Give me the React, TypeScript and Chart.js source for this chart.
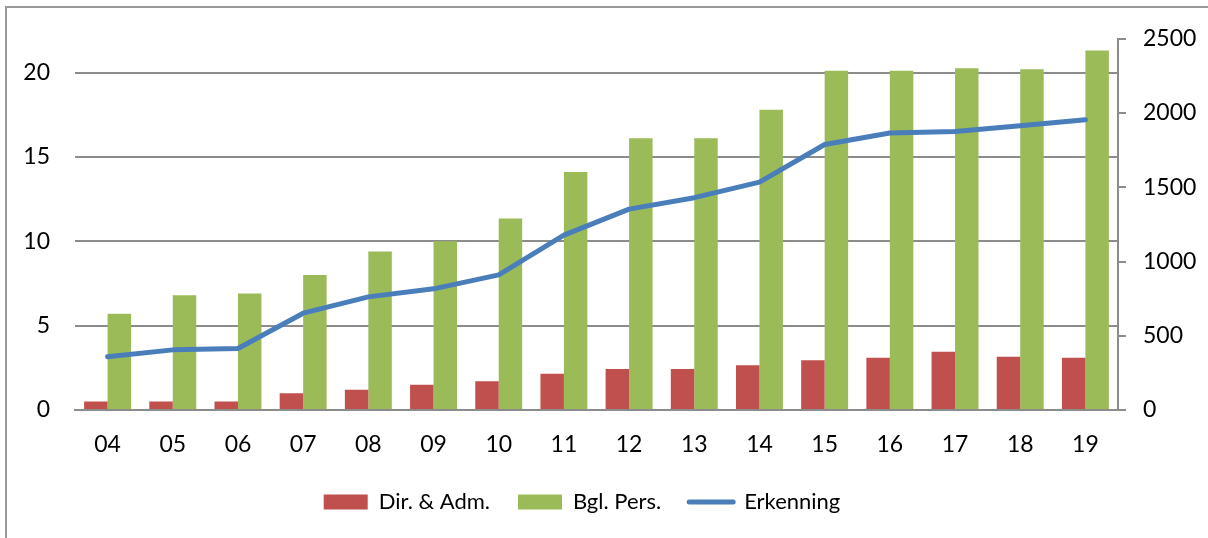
import React, { useEffect, useRef } from 'react';
import { Chart, registerables } from 'chart.js';

Chart.register(...registerables);

const categories = ['04', '05', '06', '07', '08', '09', '10', '11', '12', '13', '14', '15', '16', '17', '18', '19'];
const dirAdm = [0.5, 0.5, 0.5, 1.0, 1.2, 1.5, 1.7, 2.15, 2.43, 2.43, 2.65, 2.95, 3.1, 3.45, 3.15, 3.1];
const bglPers = [5.7, 6.8, 6.9, 8.0, 9.4, 10.0, 11.35, 14.1, 16.1, 16.1, 17.8, 20.1, 20.1, 20.25, 20.2, 21.3];
const erkenning = [358, 405, 414, 652, 762, 816, 910, 1178, 1353, 1430, 1535, 1788, 1866, 1875, 1914, 1955];
const leftTicks = [0, 5, 10, 15, 20];
const rightTicks = [0, 500, 1000, 1500, 2000, 2500];

const RED = '#C0504D';
const GREEN = '#9BBB59';
const BLUE = '#4A7EBB';
const GRID = '#8C8C8C';
const FONT = 'Lato';

const legendShift = {
  id: 'legendShift',
  afterLayout(chart: any) {
    const l = chart.legend;
    if (l) {
      l.left -= 22;
      l.right -= 22;
    }
  },
};

export default function App() {
  const ref = useRef<HTMLCanvasElement | null>(null);

  useEffect(() => {
    if (!ref.current) return;
    const chart = new Chart(ref.current, {
      type: 'bar',
      plugins: [legendShift],
      data: {
        labels: categories,
        datasets: [
          {
            type: 'bar',
            label: 'Dir. & Adm.',
            data: dirAdm,
            backgroundColor: RED,
            borderWidth: 0,
            yAxisID: 'y',
            order: 2,
            barPercentage: 1,
            categoryPercentage: 0.72,
          },
          {
            type: 'bar',
            label: 'Bgl. Pers.',
            data: bglPers,
            backgroundColor: GREEN,
            borderWidth: 0,
            yAxisID: 'y',
            order: 2,
            barPercentage: 1,
            categoryPercentage: 0.72,
          },
          {
            type: 'line',
            label: 'Erkenning',
            data: erkenning,
            borderColor: BLUE,
            backgroundColor: BLUE,
            borderWidth: 5,
            pointRadius: 0,
            tension: 0,
            yAxisID: 'y1',
            order: 1,
            borderCapStyle: 'round',
            borderJoinStyle: 'round',
          } as any,
        ],
      },
      options: {
        responsive: false,
        animation: false,
        devicePixelRatio: 1,
        layout: { padding: { top: 37, left: 0, right: 0, bottom: 15 } },
        plugins: {
          tooltip: { enabled: false },
          legend: {
            position: 'bottom',
            labels: {
              font: { family: FONT, size: 22 },
              color: '#000',
              usePointStyle: true,
              pointStyleWidth: 44,
              boxHeight: 15,
              padding: 28,
              sort: (a: any, b: any) => a.datasetIndex - b.datasetIndex,
              generateLabels: (c: any) => {
                const items = Chart.defaults.plugins.legend.labels.generateLabels(c);
                return items.map((it: any) =>
                  it.datasetIndex === 2
                    ? { ...it, pointStyle: 'line', lineWidth: 5, strokeStyle: BLUE, lineCap: 'round' }
                    : { ...it, pointStyle: 'rect', lineWidth: 0, strokeStyle: 'rgba(0,0,0,0)' }
                );
              },
            },
          },
        },
        scales: {
          x: {
            afterFit: (s: any) => { s.height = 53; },
            grid: { display: false, drawTicks: false },
            border: { display: true, color: GRID, width: 2 },
            ticks: { font: { family: FONT, size: 23 }, color: '#000', padding: 21 },
          },
          y: {
            position: 'left',
            min: 0,
            max: 22,
            afterFit: (s: any) => { s.width = 75; },
            afterBuildTicks: (s: any) => { s.ticks = leftTicks.map((v) => ({ value: v })); },
            grid: { color: GRID, lineWidth: 2, drawTicks: false },
            border: { display: false },
            ticks: { font: { family: FONT, size: 23 }, color: '#000', padding: 25, callback: (v: any) => String(v) },
          },
          y1: {
            position: 'right',
            min: 0,
            max: 2500,
            afterFit: (s: any) => { s.width = 90; },
            afterBuildTicks: (s: any) => { s.ticks = rightTicks.map((v) => ({ value: v })); },
            grid: { drawOnChartArea: false, drawTicks: true, tickLength: 8, color: GRID, lineWidth: 2 },
            border: { display: true, color: GRID, width: 2 },
            ticks: { font: { family: FONT, size: 23 }, color: '#000', padding: 17, callback: (v: any) => String(v) },
          },
        },
      },
    });
    return () => chart.destroy();
  }, []);

  return (
    <div style={{ position: 'fixed', left: 0, top: 0, width: 1208, height: 538, background: '#fff', overflow: 'hidden' }}>
      <div style={{ position: 'absolute', left: 5, top: 6, width: 1400, height: 800, border: '2px solid #999' }} />
      <canvas ref={ref} width={1208} height={538} style={{ position: 'absolute', left: 0, top: 0, width: 1208, height: 538 }} />
    </div>
  );
}
